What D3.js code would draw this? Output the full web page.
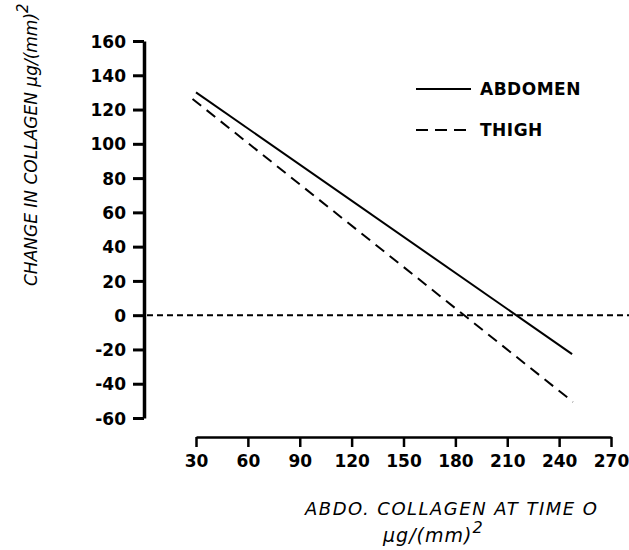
<!DOCTYPE html>
<html>
<head>
<meta charset="utf-8">
<script src="https://cdn.jsdelivr.net/npm/d3@7"></script>
<style>
    body { margin: 0; background: #fff; }
    .tick text { font-family: "DejaVu Sans", sans-serif; font-weight: bold; font-size: 17px; fill: #000; }
    .ttl { font-family: "DejaVu Sans", sans-serif; font-style: italic; font-size: 17px; fill: #000; }
    .leg { font-family: "DejaVu Sans", sans-serif; font-weight: bold; font-size: 17px; letter-spacing: 0.5px; fill: #000; }
</style>
</head>
<body>
<svg id="viz" width="629" height="550"></svg>
<script>
window.addEventListener("load", run);

// regression lines (x = abdo. collagen at time 0)
var abdomenX = [30, 247.5];
var abdomenY = [130, -22.7];
var thighX = [28, 248];
var thighY = [126.2, -50.6];

var xTicks = [30, 60, 90, 120, 150, 180, 210, 240, 270];
var yTicks = [-60, -40, -20, 0, 20, 40, 60, 80, 100, 120, 140, 160];

var seriesNames = ["ABDOMEN", "THIGH"];

function run() {
    var svg = d3.select("#viz");

    var x = d3.scaleLinear().domain([30, 270]).range([196, 611]);
    var y = d3.scaleLinear().domain([-60, 160]).range([418, 41]);

    // plain hyphen for negatives, like the original
    var fmt = function (d) { return String(d); };

    // y axis, ticks stick out to the left
    var yAxis = svg.append("g")
        .attr("transform", "translate(144,0)")
        .call(d3.axisLeft(y).tickValues(yTicks).tickFormat(fmt).tickSize(11).tickSizeOuter(0).tickPadding(7));
    yAxis.select(".domain").attr("stroke-width", 3.5);
    yAxis.selectAll(".tick line").attr("stroke-width", 3);
    yAxis.selectAll(".tick text").attr("dy", "0.36em");

    // x axis sits below, ticks point down
    var xAxis = svg.append("g")
        .attr("transform", "translate(0,437)")
        .call(d3.axisBottom(x).tickValues(xTicks).tickFormat(fmt).tickSize(10).tickSizeOuter(0).tickPadding(8));
    xAxis.select(".domain").attr("stroke-width", 2.5);
    xAxis.selectAll(".tick line").attr("stroke-width", 2.5);

    // dashed zero reference
    svg.append("line")
        .attr("x1", 147).attr("x2", 629)
        .attr("y1", y(0)).attr("y2", y(0))
        .attr("stroke", "#000")
        .attr("stroke-width", 2)
        .attr("stroke-dasharray", "6,4");

    var line = d3.line()
        .x(function (d) { return x(d[0]); })
        .y(function (d) { return y(d[1]); });

    svg.append("path")
        .datum(d3.zip(abdomenX, abdomenY))
        .attr("d", line)
        .attr("fill", "none")
        .attr("stroke", "#000")
        .attr("stroke-width", 2);

    svg.append("path")
        .datum(d3.zip(thighX, thighY))
        .attr("d", line)
        .attr("fill", "none")
        .attr("stroke", "#000")
        .attr("stroke-width", 2)
        .attr("stroke-dasharray", "11,7");

    // legend
    var dashes = [null, "12,7"];
    seriesNames.forEach(function (name, i) {
        var ly = 89 + i * 41;
        svg.append("line")
            .attr("x1", 416).attr("x2", 471)
            .attr("y1", ly).attr("y2", ly)
            .attr("stroke", "#000")
            .attr("stroke-width", 2)
            .attr("stroke-dasharray", dashes[i]);
        svg.append("text")
            .attr("class", "leg")
            .attr("x", 480)
            .attr("y", ly + 6)
            .text(name);
    });

    // x title, two lines
    svg.append("text")
        .attr("class", "ttl")
        .attr("x", 305).attr("y", 515)
        .style("font-size", "18px")
        .attr("textLength", 292)
        .attr("lengthAdjust", "spacing")
        .text("ABDO. COLLAGEN AT TIME O");
    var xt2 = svg.append("text")
        .attr("class", "ttl")
        .attr("x", 383).attr("y", 542)
        .style("font-size", "19px")
        .style("letter-spacing", "1px");
    xt2.append("tspan").text("\u03bcg/(mm)");
    xt2.append("tspan").attr("dy", -9).style("font-size", "16px").text("2");

    // y title, rotated
    var yt = svg.append("text")
        .attr("class", "ttl")
        .attr("transform", "translate(37,286) rotate(-90)")
        .attr("x", 0).attr("y", 0);
    yt.append("tspan").text("CHANGE IN COLLAGEN \u03bcg/(mm)");
    yt.append("tspan").attr("dy", -9).style("font-size", "15px").text("2");
}
</script>
</body>
</html>
